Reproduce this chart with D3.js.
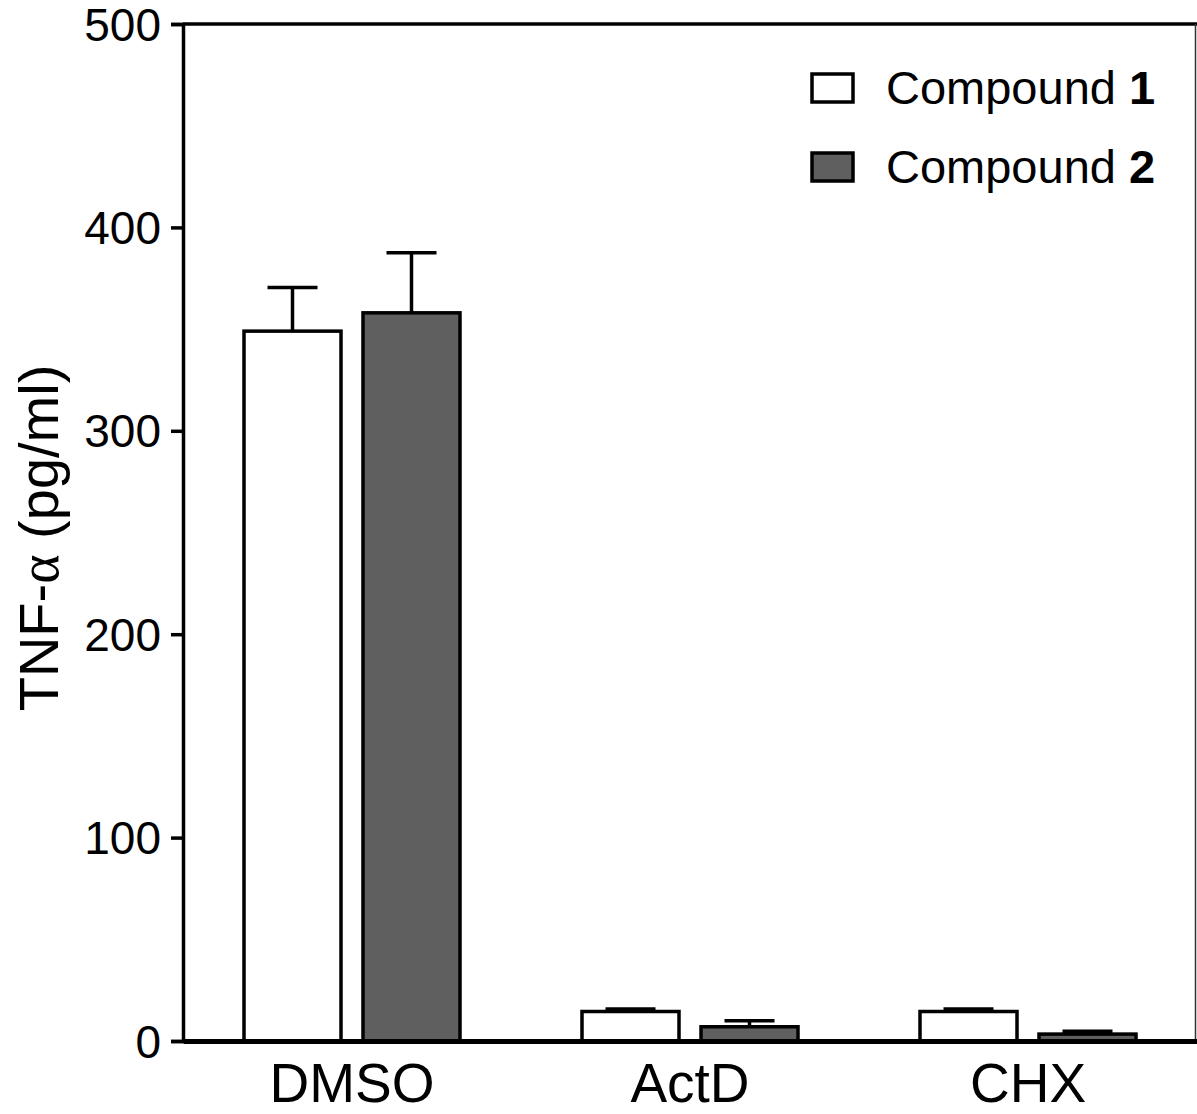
<!DOCTYPE html>
<html>
<head>
<meta charset="utf-8">
<script src="https://cdn.jsdelivr.net/npm/d3@7"></script>
<style>
html,body{margin:0;padding:0;background:#fff;}
svg{display:block;font-family:"Liberation Sans",Arial,Helvetica,sans-serif;}
</style>
</head>
<body>
<svg id="chart" width="1197" height="1114"></svg>
<script>
const categories = ["DMSO", "ActD", "CHX"];
const seriesNames = ["Compound 1", "Compound 2"];
const compound1 = [349, 14.5, 14.5];
const compound1Err = [21.5, 1.2, 1.2];
const compound2 = [358, 7, 3.4];
const compound2Err = [29.5, 3, 1.4];
const yTicks = [0, 100, 200, 300, 400, 500];

const svg = d3.select("#chart");
const mLeft = 183, mRight = 1197, mTop = 24, mBottom = 1041;

const x = d3.scaleBand().domain(categories).range([mLeft, mRight]).padding(0);
const y = d3.scaleLinear().domain([0, 500]).range([mBottom, mTop]);

const fills = ["#ffffff", "#5f5f5f"];
const vals = [compound1, compound2];
const errs = [compound1Err, compound2Err];
const barW = 97;
const gap = 22;

// frame top & right
svg.append("line").attr("x1", mLeft).attr("x2", mRight).attr("y1", mTop).attr("y2", mTop)
  .attr("stroke", "#000").attr("stroke-width", 3.5);
svg.append("line").attr("x1", mRight - 1.5).attr("x2", mRight - 1.5).attr("y1", mTop).attr("y2", mBottom)
  .attr("stroke", "#333").attr("stroke-width", 1.5);

// bars
vals.forEach((arr, s) => {
  const g = svg.append("g");
  categories.forEach((c, i) => {
    const cx = x(c) + x.bandwidth() / 2 + (s === 0 ? -(barW + gap) / 2 : (barW + gap) / 2);
    const v = arr[i], e = errs[s][i];
    g.append("line").attr("x1", cx).attr("x2", cx).attr("y1", y(v)).attr("y2", y(v + e))
      .attr("stroke", "#000").attr("stroke-width", 3.5);
    g.append("line").attr("x1", cx - 25).attr("x2", cx + 25).attr("y1", y(v + e)).attr("y2", y(v + e))
      .attr("stroke", "#000").attr("stroke-width", 3.5);
    g.append("rect").attr("x", cx - barW / 2).attr("y", y(v)).attr("width", barW)
      .attr("height", y(0) - y(v)).attr("fill", fills[s]).attr("stroke", "#000").attr("stroke-width", 3.5);
  });
});

// y axis
const yAxis = d3.axisLeft(y).tickValues(yTicks).tickSize(12).tickPadding(10);
const ya = svg.append("g").attr("transform", `translate(${mLeft},0)`).call(yAxis);
ya.select(".domain").attr("stroke", "#000").attr("stroke-width", 3.5);
ya.selectAll(".tick line").attr("stroke", "#000").attr("stroke-width", 3.5);
ya.selectAll(".tick text").attr("font-size", 46).attr("fill", "#000")
  .attr("font-family", "Liberation Sans, Arial, sans-serif").attr("dy", "0.35em");

// x axis
const xAxis = d3.axisBottom(x).tickSize(0).tickPadding(22);
const xa = svg.append("g").attr("transform", `translate(0,${mBottom})`).call(xAxis);
xa.select(".domain").attr("stroke", "#000").attr("stroke-width", 5);
xa.selectAll(".tick text").attr("font-size", 55).attr("fill", "#000")
  .attr("font-family", "Liberation Sans, Arial, sans-serif");

// y title
const yt = svg.append("text").attr("transform", "translate(58,538) rotate(-90)")
  .attr("text-anchor", "middle").attr("font-size", 56).attr("fill", "#000");
yt.append("tspan").text("TNF-");
yt.append("tspan").attr("font-family", "Liberation Serif, DejaVu Serif, serif").text("α");
yt.append("tspan").text(" (pg/ml)");

// legend
seriesNames.forEach((n, s) => {
  const ly = 88 + s * 79;
  svg.append("rect").attr("x", 812).attr("y", ly - 14).attr("width", 41).attr("height", 28)
    .attr("fill", fills[s]).attr("stroke", "#000").attr("stroke-width", 3.5);
  const parts = n.split(" ");
  const t = svg.append("text").attr("x", 886).attr("y", ly).attr("dy", "0.35em")
    .attr("font-size", 47).attr("fill", "#000");
  t.append("tspan").text(parts[0] + " ");
  t.append("tspan").attr("font-weight", "bold").text(parts[1]);
});
</script>
</body>
</html>
